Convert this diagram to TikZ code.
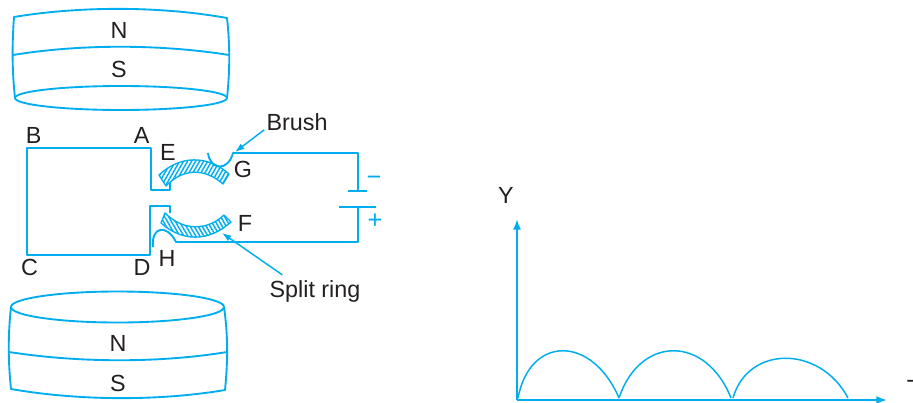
\documentclass[tikz,border=0pt]{standalone}
\usepackage{fontspec}
\setmainfont{Liberation Sans}
\usetikzlibrary{arrows.meta,patterns.meta,positioning}
\definecolor{wireblue}{RGB}{0,174,239}
\definecolor{inkblack}{RGB}{35,31,32}

\begin{document}
\begin{tikzpicture}[x=0.75pt, y=-0.75pt,
      wire/.style={draw=wireblue, line width=1.4pt, line join=round},
      thinwire/.style={draw=wireblue, line width=1.1pt},
      ringE/.style={wire, line width=1pt, pattern={Lines[angle=60, distance=2.6pt, line width=1.1pt]}, pattern color=wireblue},
      ringF/.style={wire, line width=1pt, pattern={Lines[angle=-60, distance=2.6pt, line width=1.1pt]}, pattern color=wireblue},
      pointer/.style={thinwire, -{Latex[length=7pt, width=5pt]}},
      axis/.style={wire, -{Latex[length=8pt, width=6pt]}},
      lbl/.style={inner sep=0pt, text=inkblack, font=\fontsize{17.5}{17.5}\selectfont},
      sign/.style={inner sep=0pt, text=wireblue, font=\fontsize{19}{19}\selectfont}]
      \useasboundingbox (0,0) rectangle (913,403);

      % top magnet
      \draw[wire] (15,98) .. controls (12,70) and (12,45) .. (14,17)
        .. controls (80,6) and (160,6) .. (227,18)
        .. controls (230,45) and (230,70) .. (227,98);
      \draw[wire] (13,55) .. controls (80,44) and (160,44) .. (229,55);
      \draw[wire] (121,98) ellipse (106 and 12);
      \node[lbl] (Ntop) at (119,30) {N};
      \node[lbl] (Stop) at (119,69) {S};

      % bottom magnet
      \draw[wire] (11,307) .. controls (8,335) and (8,360) .. (11,389)
        .. controls (80,401) and (160,401) .. (225,390)
        .. controls (228,360) and (228,335) .. (224,307);
      \draw[wire] (9,352) .. controls (80,363) and (160,363) .. (227,352);
      \draw[wire] (117.5,307) ellipse (106.5 and 15.5);
      \node[lbl] (Nbot) at (118,343) {N};
      \node[lbl] (Sbot) at (118,383) {S};

      % coil
      \coordinate (cornerB) at (27,148);
      \coordinate (cornerA) at (151,148);
      \coordinate (cornerC) at (27,255);
      \coordinate (cornerD) at (150,255);
      \draw[wire] (170,182) -- (170,190) -- (151,190) -- (cornerA) -- (cornerB)
        -- (cornerC) -- (cornerD) -- (150,206) -- (170,206) -- (170,213);
      \node[lbl, above=3pt of cornerB, xshift=5pt] (B) {B};
      \node[lbl, above=3pt of cornerA, xshift=-7pt] (A) {A};
      \node[lbl, below=3pt of cornerC, xshift=2pt] (C) {C};
      \node[lbl, below=3pt of cornerD, xshift=-6pt] (D) {D};

      % split ring
      \draw[ringE] (159,175) .. controls (180,155) and (208,155) .. (229,174)
        -- (223,184) .. controls (205,168) and (183,168) .. (166,186) -- cycle;
      \draw[ringF] (161,223) .. controls (182,242) and (209,242) .. (231,222)
        -- (224,215) .. controls (207,231) and (183,231) .. (165,213) -- cycle;
      \node[lbl] (E) at (168,152) {E};
      \node[lbl] (F) at (245,223) {F};

      % brushes, leads and cell
      \coordinate (plateneg) at (358,191);
      \coordinate (platepos) at (358,207);
      \draw[wire] (208,153) .. controls (210,170) and (228,172) .. (233,153)
        -- (358,153) -- (plateneg);
      \draw[wire] (153,247) .. controls (151,226) and (167,224) .. (176,242)
        -- (358,242) -- (platepos);
      \draw[wire] (348,191) -- (367,191);
      \draw[wire] (339,207) -- (376,207);
      \node[lbl] (G) at (243,169) {G};
      \node[lbl] (H) at (167,258) {H};
      \node[sign] (minus) at (374,181) {−};
      \node[sign] (plus) at (375,221) {+};

      % pointers
      \coordinate (brushtip) at (235,152);
      \coordinate (ringtip) at (222,233);
      \node[lbl] (brushlbl) at (297,122) {Brush};
      \node[lbl] (ringlbl) at (315,291) {Split ring};
      \draw[pointer] (brushlbl.south west) ++(-2,-1) -- (brushtip);
      \draw[pointer] (ringlbl.north west) ++(13,-5) -- (ringtip);

      % graph
      \coordinate (origin) at (517,400);
      \coordinate (yend) at (517,219);
      \coordinate (xend) at (887,400);
      \draw[axis] (origin) -- (yend);
      \draw[axis] (origin) -- (xend);
      \node[lbl] (Y) at (506,195) {Y};
      \node[lbl, anchor=west] (X) at (906,384) {-};
      \draw[wire, line width=1.1pt] (518,398) .. controls (530,335) and (592,335) .. (619,398);
      \draw[wire, line width=1.1pt] (619,398) .. controls (640,335) and (706,335) .. (731,398);
      \draw[wire, line width=1.1pt] (733,398) .. controls (748,345) and (820,345) .. (848,398);
    \end{tikzpicture}
\end{document}
